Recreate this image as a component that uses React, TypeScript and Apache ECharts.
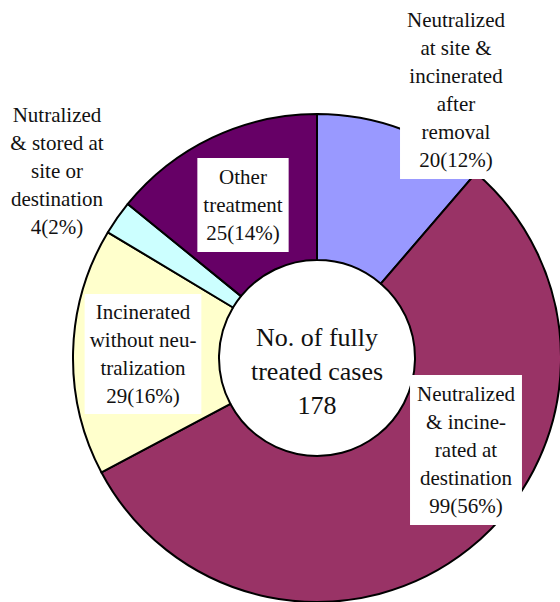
import React, { useEffect, useRef } from "react";
import * as echarts from "echarts";

const categories = [
  "Neutralized at site & incinerated after removal",
  "Neutralized & incinerated at destination",
  "Incinerated without neutralization",
  "Nutralized & stored at site or destination",
  "Other treatment",
];
const labelLines = [
  "Neutralized\nat site &\nincinerated\nafter\nremoval",
  "Neutralized\n& incine-\nrated at\ndestination",
  "Incinerated\nwithout neu-\ntralization",
  "Nutralized\n& stored at\nsite or\ndestination",
  "Other\ntreatment",
];
const values = [20, 99, 29, 4, 25];
const percents = [12, 56, 16, 2, 14];
const colors = ["#9999FF", "#993366", "#FFFFCC", "#CCFFFF", "#660066"];
const totalLabel = "No. of fully\ntreated cases\n178";

// label placement (layout only)
const labelPos = [
  { x: 456, y: 90, box: true, pad: [5, 7] },
  { x: 466, y: 450, box: true, pad: [5, 7] },
  { x: 143, y: 354, box: true, pad: [4, 5] },
  { x: 57, y: 171, box: false, pad: [0, 0] },
  { x: 243, y: 205, box: true, pad: [5, 6] },
];

export default function App() {
  const ref = useRef<HTMLDivElement>(null);
  useEffect(() => {
    if (!ref.current) return;
    const chart = echarts.init(ref.current, undefined, { renderer: "svg" });
    const font = "Liberation Serif";
    const texts = categories.map((_, i) => ({
      type: "text",
      x: labelPos[i].x,
      y: labelPos[i].y,
      z: 100,
      style: {
        text: `${labelLines[i]}\n${values[i]}(${percents[i]}%)`,
        fontFamily: font,
        fontSize: 21,
        lineHeight: 28,
        fill: "#111",
        align: "center",
        verticalAlign: "middle",
        backgroundColor: labelPos[i].box ? "#fff" : undefined,
        padding: labelPos[i].pad,
      },
    }));
    chart.setOption({
      animation: false,
      backgroundColor: "#fff",
      series: [
        {
          type: "pie",
          center: [317, 358],
          radius: [98, 244],
          startAngle: 90,
          clockwise: true,
          label: { show: false },
          labelLine: { show: false },
          emphasis: { disabled: true },
          itemStyle: { borderColor: "#000", borderWidth: 2 },
          data: categories.map((c, i) => ({
            name: c,
            value: values[i],
            itemStyle: { color: colors[i] },
          })),
        },
      ],
      graphic: [
        ...texts,
        {
          type: "text",
          x: 317,
          y: 371,
          z: 100,
          style: {
            text: totalLabel,
            fontFamily: font,
            fontSize: 26,
            lineHeight: 34,
            fill: "#111",
            align: "center",
            verticalAlign: "middle",
          },
        },
      ],
    });
    return () => chart.dispose();
  }, []);
  return (
    <div
      ref={ref}
      style={{ position: "fixed", left: 0, top: 0, width: 560, height: 602 }}
    />
  );
}
